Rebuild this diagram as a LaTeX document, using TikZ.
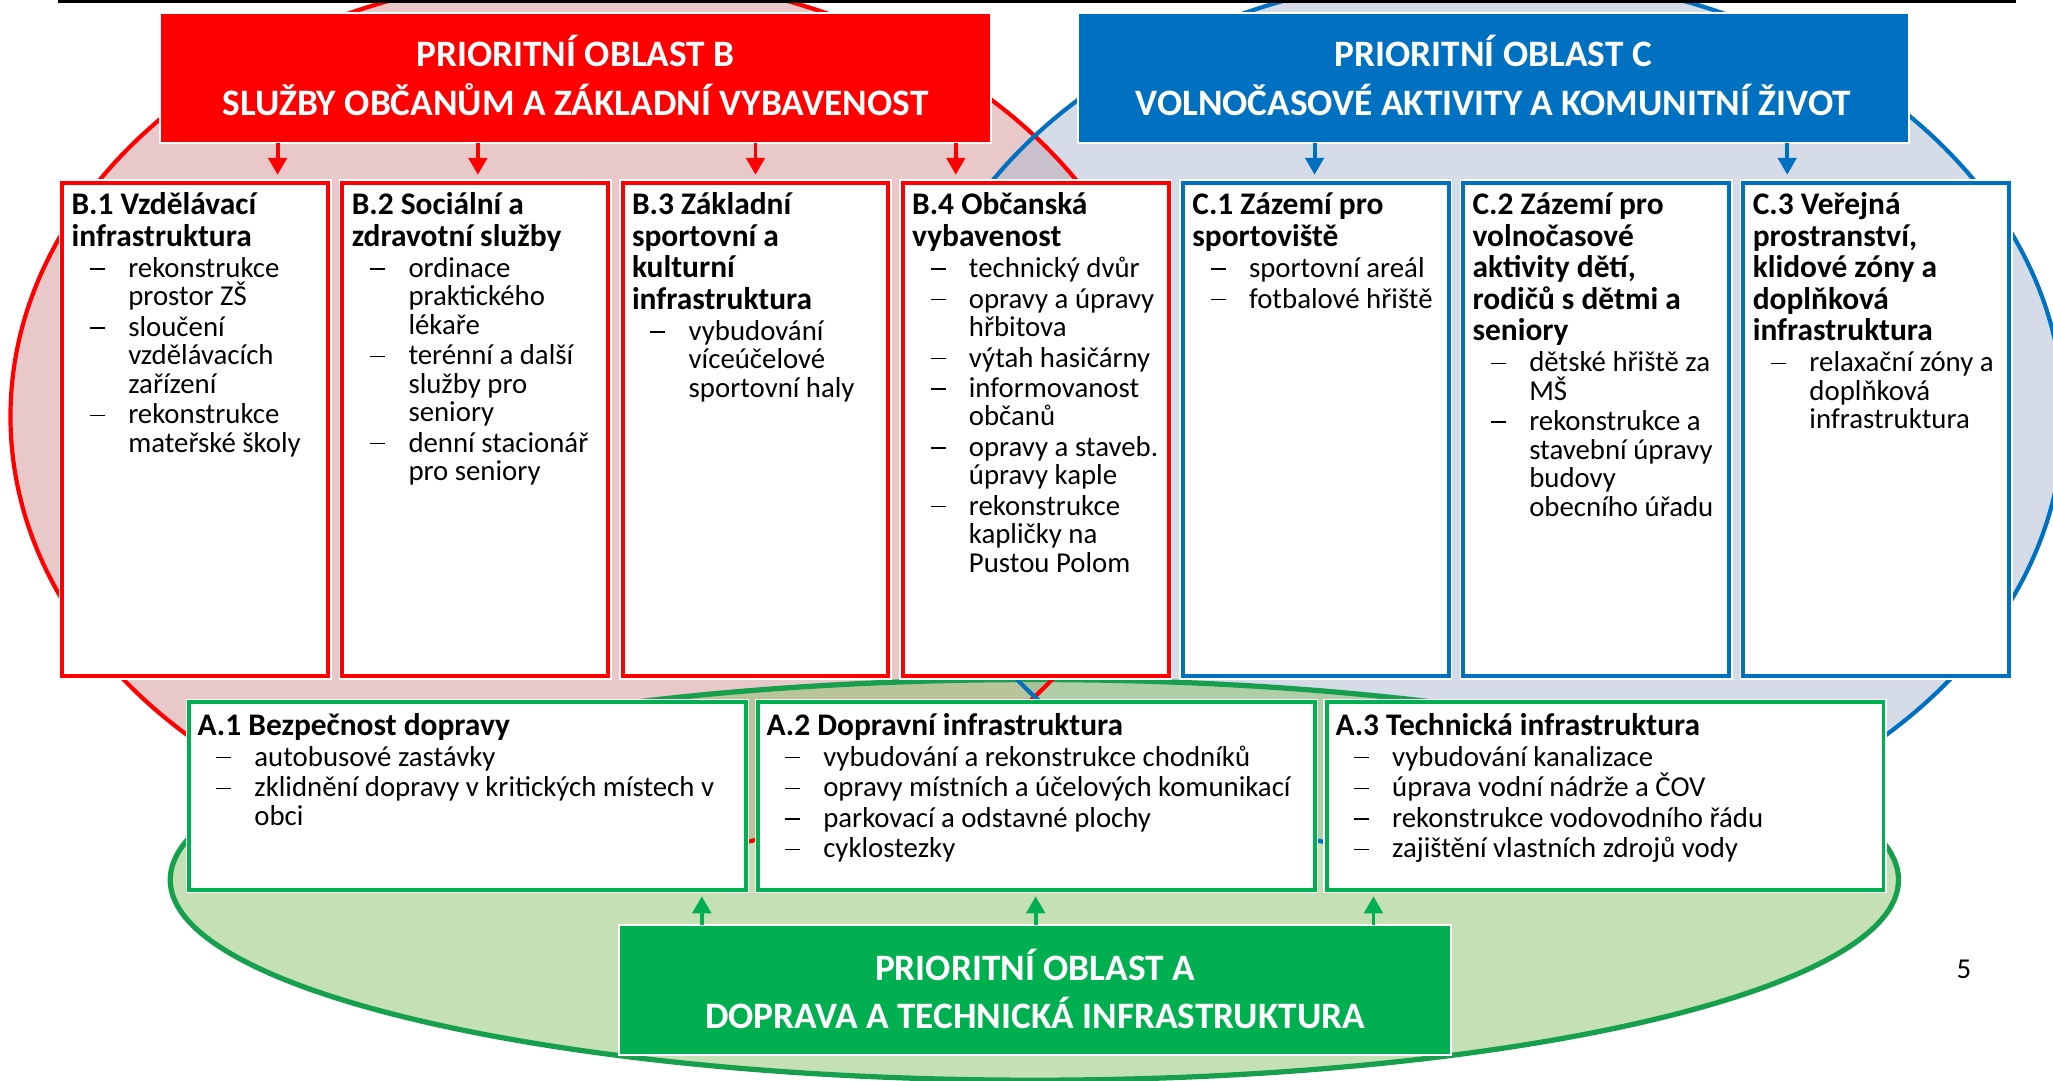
\documentclass[tikz,border=0pt]{standalone}
\usepackage{fontspec}
\setmainfont{Carlito}
\usetikzlibrary{arrows.meta}
\definecolor{cRed}{RGB}{255,0,0}
\definecolor{cBlue}{RGB}{0,112,192}
\definecolor{cGreen}{RGB}{0,176,80}
\definecolor{cGreenLine}{RGB}{22,160,78}
\definecolor{fRed}{RGB}{209,145,145}
\definecolor{fBlue}{RGB}{171,185,209}
\definecolor{fGreen}{RGB}{139,193,105}
\newcommand\TT{\\[2.3pt]}
\newcommand\NB{\\[1.6pt]}
\newcommand\ttl[1]{{\fontsize{24}{21.7}\selectfont\bfseries #1}}
\newcommand\itm[1]{\makebox[43.3pt][l]{\hspace*{14pt}\rule[6pt]{11.5pt}{1.1pt}}#1}
\newcommand\cnt[1]{\hspace*{43.3pt}#1}
\newcommand\boxtext[1]{\parbox[t]{500pt}{\fontsize{22}{21.7}\selectfont\raggedright\lineskiplimit=-100pt\relax #1}}
\tikzset{
  hdr/.style={draw=white, line width=1.5pt, minimum width=635pt, minimum height=99pt,
    inner sep=0pt, outer sep=0pt},
  hdrtext/.style={text=white, align=center, inner sep=0pt,
    font=\fontsize{28.5}{37}\selectfont\bfseries},
  colbox/.style={fill=white, line width=3pt, minimum width=203pt, minimum height=377pt,
    inner sep=0pt, outer sep=0pt, anchor=north west, preaction={draw=white, line width=5.5pt}},
  rbox/.style={colbox, draw=cRed},
  bbox/.style={colbox, draw=cBlue},
  gbox/.style={colbox, draw=cGreen, minimum width=425pt, minimum height=143pt},
  btext/.style={anchor=base west, inner sep=0pt, outer sep=0pt},
  arrR/.style={draw=cRed, line width=3pt, -{Triangle[width=14pt,length=13pt]}, shorten >=6pt},
  arrB/.style={arrR, draw=cBlue},
  arrG/.style={arrR, draw=cGreen, shorten >=5pt},
}
\begin{document}
\begin{tikzpicture}[x=1pt,y=-1pt]
\useasboundingbox (0,0) rectangle (1568,825.6);
% ellipses
\fill[fRed, fill opacity=0.5] (449,318) ellipse [x radius=441pt, y radius=338pt];
\fill[fBlue, fill opacity=0.5] (1133,318) ellipse [x radius=443pt, y radius=338pt];
\fill[fGreen, fill opacity=0.5] (790,672) ellipse [x radius=660pt, y radius=153pt];
\draw[cGreenLine, line width=4pt] (790,672) ellipse [x radius=660pt, y radius=153pt];
\draw[cRed, line width=3.2pt] (449,318) ellipse [x radius=441pt, y radius=338pt];
\draw[cBlue, line width=3.2pt] (1133,318) ellipse [x radius=443pt, y radius=338pt];
% top rule
\draw[line width=2.5pt] (44,1.25) -- (1540,1.25);
% headers
\node[hdr, fill=cRed] (hB) at (439.5,59.5) {};
\node[hdr, fill=cBlue] (hC) at (1140.5,59.5) {};
\node[hdr, fill=cGreen] (hA) at (790.5,756) {};
\node[hdrtext] (hBt) at ([yshift=2pt]hB.center) {PRIORITNÍ OBLAST B\\SLUŽBY OBČANŮM A ZÁKLADNÍ VYBAVENOST};
\node[hdrtext] (hCt) at ([yshift=2pt]hC.center) {PRIORITNÍ OBLAST C\\VOLNOČASOVÉ AKTIVITY A KOMUNITNÍ ŽIVOT};
\node[hdrtext] (hAt) at ([yshift=0.5pt]hA.center) {PRIORITNÍ OBLAST A\\DOPRAVA A TECHNICKÁ INFRASTRUKTURA};
% B boxes
\node[rbox] (b1) at (47.5,139.5) {};
\node[rbox] (b2) at (261.5,139.5) {};
\node[rbox] (b3) at (475.5,139.5) {};
\node[rbox] (b4) at (689.5,139.5) {};
% C boxes
\node[bbox] (c1) at (903.5,139.5) {};
\node[bbox] (c2) at (1117.5,139.5) {};
\node[bbox] (c3) at (1331.5,139.5) {};
% A boxes
\node[gbox] (a1) at (144.5,536.5) {};
\node[gbox] (a2) at (579,536.5) {};
\node[gbox] (a3) at (1013.5,536.5) {};
% texts
\node[btext] (b1t) at ([xshift=7.2pt,yshift=-24.5pt]b1.north west) {\boxtext{%
\ttl{B.1 Vzdělávací}\TT
\ttl{infrastruktura}\TT
\itm{rekonstrukce}\\
\cnt{prostor ZŠ}\NB
\itm{sloučení}\\
\cnt{vzdělávacích}\\
\cnt{zařízení}\NB
\itm{rekonstrukce}\\
\cnt{mateřské školy}}};
\node[btext] (b2t) at ([xshift=7.2pt,yshift=-24.5pt]b2.north west) {\boxtext{%
\ttl{B.2 Sociální a}\TT
\ttl{zdravotní služby}\TT
\itm{ordinace}\\
\cnt{praktického}\\
\cnt{lékaře}\NB
\itm{terénní a další}\\
\cnt{služby pro}\\
\cnt{seniory}\NB
\itm{denní stacionář}\\
\cnt{pro seniory}}};
\node[btext] (b3t) at ([xshift=7.2pt,yshift=-24.5pt]b3.north west) {\boxtext{%
\ttl{B.3 Základní}\TT
\ttl{sportovní a}\TT
\ttl{kulturní}\TT
\ttl{infrastruktura}\TT
\itm{vybudování}\\
\cnt{víceúčelové}\\
\cnt{sportovní haly}}};
\node[btext] (b4t) at ([xshift=7.2pt,yshift=-24.5pt]b4.north west) {\boxtext{%
\ttl{B.4 Občanská}\TT
\ttl{vybavenost}\TT
\itm{technický dvůr}\NB
\itm{opravy a úpravy}\\
\cnt{hřbitova}\NB
\itm{výtah hasičárny}\NB
\itm{informovanost}\\
\cnt{občanů}\NB
\itm{opravy a staveb.}\\
\cnt{úpravy kaple}\NB
\itm{rekonstrukce}\\
\cnt{kapličky na}\\
\cnt{Pustou Polom}}};
\node[btext] (c1t) at ([xshift=7.2pt,yshift=-24.5pt]c1.north west) {\boxtext{%
\ttl{C.1 Zázemí pro}\TT
\ttl{sportoviště}\TT
\itm{sportovní areál}\NB
\itm{fotbalové hřiště}}};
\node[btext] (c2t) at ([xshift=7.2pt,yshift=-24.5pt]c2.north west) {\boxtext{%
\ttl{C.2 Zázemí pro}\TT
\ttl{volnočasové}\TT
\ttl{aktivity dětí,}\TT
\ttl{rodičů s dětmi a}\TT
\ttl{seniory}\TT
\itm{dětské hřiště za}\\
\cnt{MŠ}\NB
\itm{rekonstrukce a}\\
\cnt{stavební úpravy}\\
\cnt{budovy}\\
\cnt{obecního úřadu}}};
\node[btext] (c3t) at ([xshift=7.2pt,yshift=-24.5pt]c3.north west) {\boxtext{%
\ttl{C.3 Veřejná}\TT
\ttl{prostranství,}\TT
\ttl{klidové zóny a}\TT
\ttl{doplňková}\TT
\ttl{infrastruktura}\TT
\itm{relaxační zóny a}\\
\cnt{doplňková}\\
\cnt{infrastruktura}}};
\node[btext] (a1t) at ([xshift=6.5pt,yshift=-25.5pt]a1.north west) {\boxtext{%
\ttl{A.1 Bezpečnost dopravy}\NB
\itm{autobusové zastávky}\NB
\itm{zklidnění dopravy v kritických místech v}\\
\cnt{obci}}};
\node[btext] (a2t) at ([xshift=6.5pt,yshift=-25.5pt]a2.north west) {\boxtext{%
\ttl{A.2 Dopravní infrastruktura}\NB
\itm{vybudování a rekonstrukce chodníků}\NB
\itm{opravy místních a účelových komunikací}\NB
\itm{parkovací a odstavné plochy}\NB
\itm{cyklostezky}}};
\node[btext] (a3t) at ([xshift=6.5pt,yshift=-25.5pt]a3.north west) {\boxtext{%
\ttl{A.3 Technická infrastruktura}\NB
\itm{vybudování kanalizace}\NB
\itm{úprava vodní nádrže a ČOV}\NB
\itm{rekonstrukce vodovodního řádu}\NB
\itm{zajištění vlastních zdrojů vody}}};
% arrow x positions
\coordinate (xb1) at (212,0);
\coordinate (xb2) at (365,0);
\coordinate (xb3) at (577,0);
\coordinate (xb4) at (730,0);
\coordinate (xc1) at (1004,0);
\coordinate (xc3) at (1365,0);
\coordinate (xa1) at (536,0);
\coordinate (xa2) at (791,0);
\coordinate (xa3) at (1049,0);
\draw[arrR] (hB.south -| xb1) -- (b1.north -| xb1);
\draw[arrR] (hB.south -| xb2) -- (b2.north -| xb2);
\draw[arrR] (hB.south -| xb3) -- (b3.north -| xb3);
\draw[arrR] (hB.south -| xb4) -- (b4.north -| xb4);
\draw[arrB] (hC.south -| xc1) -- (c1.north -| xc1);
\draw[arrB] (hC.south -| xc3) -- (c3.north -| xc3);
\draw[arrG] (hA.north -| xa1) -- (a1.south -| xa1);
\draw[arrG] (hA.north -| xa2) -- (a2.south -| xa2);
\draw[arrG] (hA.north -| xa3) -- (a3.south -| xa3);
% page number
\node[font=\fontsize{22}{22}\selectfont] (pg) at (1500,740) {5};
\end{tikzpicture}
\end{document}
